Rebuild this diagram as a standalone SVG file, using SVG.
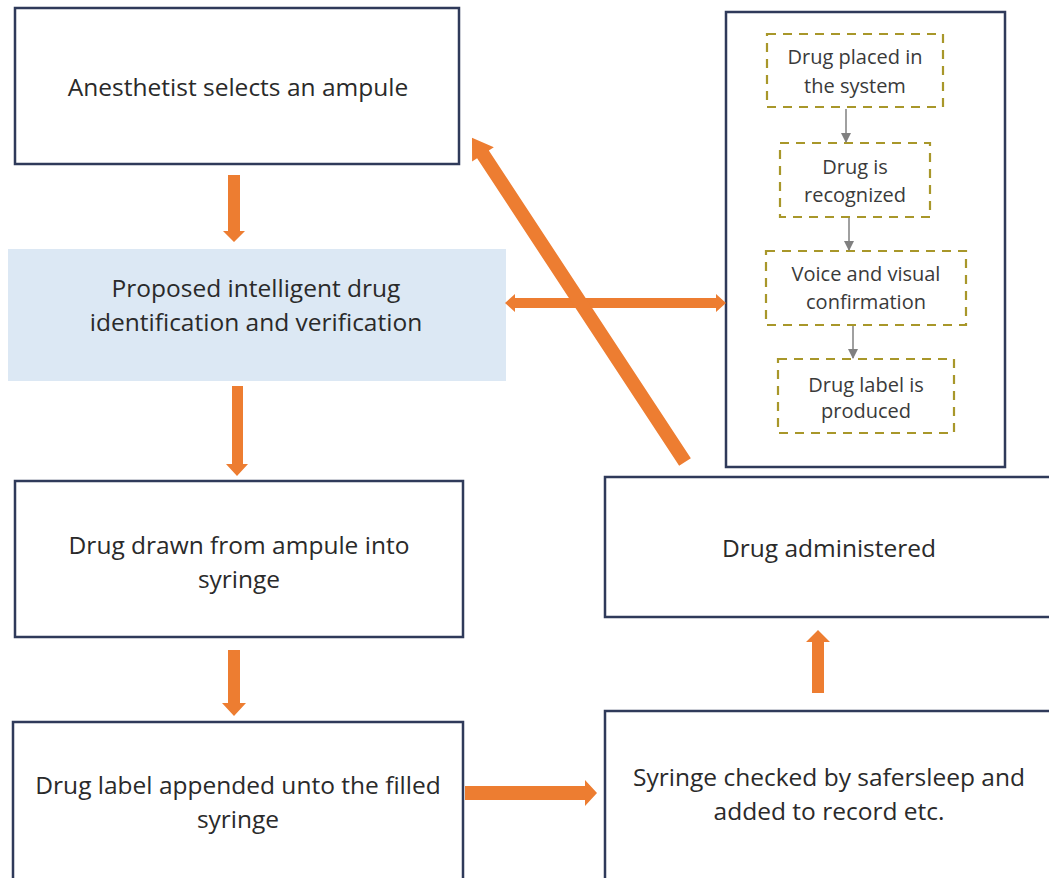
<svg xmlns="http://www.w3.org/2000/svg" width="1049" height="878" viewBox="0 0 1049 878">
  <style>
    .box { fill: #ffffff; stroke: #2f3a5a; stroke-width: 2.5; }
    .dash { fill: none; stroke: #a8972a; stroke-width: 2.2; stroke-dasharray: 9 7; }
    .t { font-family: "Open Sans", Lato, "Liberation Sans", sans-serif; font-size: 24.5px; fill: #2a2a2a; text-anchor: middle; }
    .s { font-family: "Open Sans", Lato, "Liberation Sans", sans-serif; font-size: 20px; fill: #3a3a3a; text-anchor: middle; }
    .arr { fill: #ed7d31; }
    .thin { stroke: #808080; stroke-width: 1.5; fill: none; }
  </style>
  <defs>
    <marker id="tri" markerWidth="10" markerHeight="10" refX="9" refY="5" orient="auto" markerUnits="userSpaceOnUse">
      <path d="M0,0 L10,5 L0,10 z" fill="#808080"/>
    </marker>
  </defs>
  <rect width="1049" height="878" fill="#ffffff"/>

  <g id="n-select">
    <rect class="box" x="15" y="8" width="444" height="156"/>
    <text class="t" x="238" y="96">Anesthetist selects an ampule</text>
  </g>

  <g id="n-proposed">
    <rect x="8" y="249" width="498" height="132" fill="#dce8f4"/>
    <text class="t" x="256" y="297">Proposed intelligent drug</text>
    <text class="t" x="256" y="331">identification and verification</text>
  </g>

  <g id="n-drawn">
    <rect class="box" x="15" y="481" width="448" height="156"/>
    <text class="t" x="239" y="554">Drug drawn from ampule into</text>
    <text class="t" x="239" y="588">syringe</text>
  </g>

  <g id="n-label">
    <rect class="box" x="13" y="722" width="450" height="170"/>
    <text class="t" x="238" y="794">Drug label appended unto the filled</text>
    <text class="t" x="238" y="828">syringe</text>
  </g>

  <g id="n-checked">
    <rect class="box" x="605" y="711" width="460" height="180"/>
    <text class="t" x="829" y="786">Syringe checked by safersleep and</text>
    <text class="t" x="829" y="820">added to record etc.</text>
  </g>

  <g id="n-administered">
    <rect class="box" x="605" y="477" width="460" height="140"/>
    <text class="t" x="829" y="557">Drug administered</text>
  </g>

  <g id="n-system">
    <rect class="box" x="726" y="12" width="279" height="455"/>
    <g id="s-placed">
      <rect class="dash" x="767" y="34" width="176" height="73"/>
      <text class="s" x="855" y="64">Drug placed in</text>
      <text class="s" x="855" y="93">the system</text>
    </g>
    <g id="s-recognized">
      <rect class="dash" x="780" y="143" width="150" height="74"/>
      <text class="s" x="855" y="174">Drug is</text>
      <text class="s" x="855" y="202">recognized</text>
    </g>
    <g id="s-confirm">
      <rect class="dash" x="766" y="251" width="200" height="74"/>
      <text class="s" x="866" y="281">Voice and visual</text>
      <text class="s" x="866" y="309">confirmation</text>
    </g>
    <g id="s-produced">
      <rect class="dash" x="778" y="359" width="176" height="74"/>
      <text class="s" x="866" y="392">Drug label is</text>
      <text class="s" x="866" y="418">produced</text>
    </g>
  </g>

  <g id="connectors">
    <!-- inner flow of the recognition system -->
    <line class="thin" x1="846" y1="109" x2="846" y2="142" marker-end="url(#tri)"/>
    <line class="thin" x1="849" y1="218" x2="849" y2="250" marker-end="url(#tri)"/>
    <line class="thin" x1="853" y1="326" x2="853" y2="358" marker-end="url(#tri)"/>

    <!-- block arrows -->
    <polygon class="arr" points="228,175 240,175 240,231 245,231 234,242 223,231 228,231"/>
    <polygon class="arr" points="232,386 243,386 243,464 248,464 237,476 226,464 232,464"/>
    <polygon class="arr" points="228,650 240,650 240,703 246,703 234,716 222,703 228,703"/>
    <polygon class="arr" points="465,786 585,786 585,780 597,793 585,806 585,800 465,800"/>
    <polygon class="arr" points="812,693 824,693 824,642 830,642 818,630 806,642 812,642"/>

    <!-- double arrow between proposal and system -->
    <polygon class="arr" points="505,303 515,294 515,298 716,298 716,294 726,303 716,312 716,308 515,308 515,312"/>

    <!-- return arrow from administration back to selection -->
    <g transform="translate(685,462) rotate(-123.3)">
      <polygon class="arr" points="0,-7 368,-7 368,-13 388,0 368,13 368,7 0,7"/>
    </g>
  </g>
</svg>
